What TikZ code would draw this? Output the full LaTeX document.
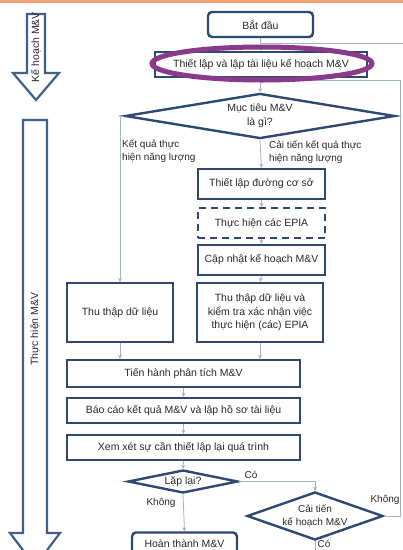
\documentclass[tikz,border=0pt]{standalone}
\usepackage{fontspec}
\setmainfont{Liberation Sans}
\usetikzlibrary{shapes.geometric,arrows.meta}
\definecolor{navy}{HTML}{2E4A72}
\definecolor{conncol}{HTML}{A3B3C8}
\definecolor{txt}{HTML}{2A2A2A}
\definecolor{purp}{HTML}{8A3A8A}
\definecolor{topline}{HTML}{F4A274}
\definecolor{bigarr}{HTML}{3F5F8C}
\tikzset{
  box/.style={draw=navy, line width=2.4pt, fill=white, align=center, inner sep=0pt, text=txt, font=\fontsize{10.5}{13.5}\selectfont},
  dbox/.style={box, dashed, dash pattern=on 7pt off 5pt},
  dia/.style={box, shape=diamond, aspect=3},
  conn/.style={draw=conncol, line width=0.8pt},
  arr/.style={conn, -{Stealth[length=4pt,width=4pt]}},
  lbl/.style={text=txt, font=\fontsize{10}{12.5}\selectfont, inner sep=0pt, align=left},
  bigarrow/.style={draw=bigarr, line width=2.2pt, fill=white, line join=miter},
}
\begin{document}
\begin{tikzpicture}[x=1pt,y=-1pt]
\useasboundingbox (0,0) rectangle (403,550);
\fill[white] (0,0) rectangle (403,550);
\fill[topline] (0,0) rectangle (403,2.5);

% phase arrows
\draw[bigarrow] (27,14) -- (45,14) -- (45,73) -- (59,73) -- (36,100) -- (13,73) -- (27,73) -- cycle;
\node[lbl, rotate=90, font=\fontsize{10.5}{12}\selectfont] (planlbl) at (36,47) {Kế hoạch M\&V};
\draw[bigarrow] (23,120) -- (47,120) -- (47,533) -- (60,533) -- (35,566) -- (10,533) -- (23,533) -- cycle;
\node[lbl, rotate=90, font=\fontsize{10.5}{12}\selectfont] (impllbl) at (35,329) {Thực hiện M\&V};

% nodes
\node[box, rounded corners=4pt, minimum width=105, minimum height=25] (start) at (260.5,24.5) {Bắt đầu};
\node[box, minimum width=212, minimum height=25] (plan) at (261,64.5) {Thiết lập và lập tài liệu kế hoạch M\&V};
\node[dia, minimum width=270, minimum height=42] (goal) at (260,116) {Mục tiêu M\&V\\là gì?};
\node[box, minimum width=127, minimum height=30] (base) at (261.5,184) {Thiết lập đường cơ sở};
\node[dbox, minimum width=127, minimum height=30] (epia) at (261.5,223) {Thực hiện các EPIA};
\node[box, minimum width=127, minimum height=30] (upd) at (261.5,260) {Cập nhật kế hoạch M\&V};
\node[box, minimum width=106, minimum height=59] (colL) at (120,312.5) {Thu thập dữ liệu};
\node[box, minimum width=126, minimum height=59] (colR) at (260,312.5) {Thu thập dữ liệu và\\kiểm tra xác nhận việc\\thực hiện (các) EPIA};
\node[box, minimum width=233, minimum height=27] (anal) at (183.5,373.5) {Tiến hành phân tích M\&V};
\node[box, minimum width=233, minimum height=25] (report) at (183.5,410.5) {Báo cáo kết quả M\&V và lập hồ sơ tài liệu};
\node[box, minimum width=233, minimum height=25] (review) at (183.5,447.5) {Xem xét sự cần thiết lập lại quá trình};
\node[dia, minimum width=110, minimum height=23] (rep) at (183,481.5) {Lặp lại?};
\node[dia, minimum width=136, minimum height=48, font=\fontsize{10}{13}\selectfont] (impr) at (315,516) {Cải tiến\\kế hoạch M\&V};
\node[box, rounded corners=4pt, minimum width=105, minimum height=22] (done) at (184.5,543.5) {Hoàn thành M\&V};

\coordinate (joinA) at (261,43);
\coordinate (joinB) at (261,80);

% connectors
\draw[arr] (start.south) -- (plan.north);
\draw[arr] (plan.south) -- (goal.north);
\draw[conn] (impr.south) -- ++(0,40) -| (410,43) -- (joinA);
\draw[conn] (impr.east) -| (400,80) -- (joinB);
\draw[arr] (goal.west) -| (colL.north);
\draw[arr] (goal.south) -- (base.north);
\draw[arr] (base.south) -- (epia.north);
\draw[arr] (epia.south) -- (upd.north);
\draw[arr] (upd.south) -- (colR.north);
\draw[arr] (colL.south) -- (colL.south |- anal.north);
\draw[arr] (colR.south) -- (colR.south |- anal.north);
\draw[arr] (anal.south) -- (report.north);
\draw[arr] (report.south) -- (review.north);
\draw[arr] (review.south) -- (rep.north);
\draw[arr] (rep.east) -| (impr.north);
\draw[arr] (rep.south) -- (done.north);

% ellipse highlight
\draw[purp, line width=5pt] (262,63.5) ellipse [x radius=110, y radius=16.5];

% labels
\node[lbl, anchor=north west] (l1) at (122,140) {Kết quả thực\\hiện năng lượng};
\node[lbl, anchor=north west] (l2) at (269,141) {Cải tiến kết quả thực\\hiện năng lượng};
\node[lbl] (l3) at (251,475) {Có};
\node[lbl] (l4) at (161,503) {Không};
\node[lbl] (l5) at (385,500) {Không};
\node[lbl] (l6) at (324,543.5) {Có};
\end{tikzpicture}
\end{document}
